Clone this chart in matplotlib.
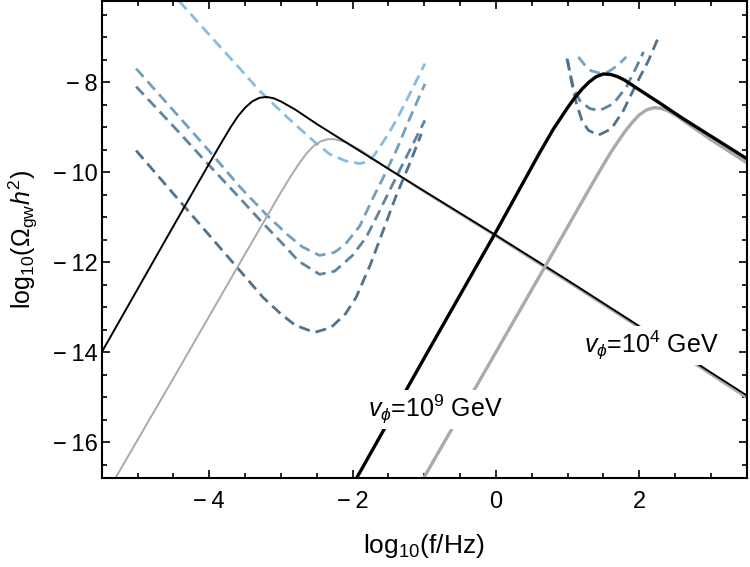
import matplotlib
matplotlib.use("Agg")
import matplotlib.pyplot as plt
from matplotlib.ticker import MultipleLocator, FuncFormatter

plt.rcParams['font.family'] = ['Liberation Sans', 'DejaVu Sans']
plt.rcParams['mathtext.fontset'] = 'custom'
plt.rcParams['mathtext.rm'] = 'Liberation Sans'
plt.rcParams['mathtext.it'] = 'Liberation Sans:italic'
plt.rcParams['mathtext.bf'] = 'Liberation Sans:bold'

# --- GW spectra (log10 f, log10 Omega h^2) ---
# v_phi = 10^4 GeV, black thin
x_b1 = [-5.5, -5.0, -4.5, -4.0, -3.85, -3.7, -3.6, -3.5, -3.4, -3.3, -3.2, -3.1, -3.0,
        -2.8, -2.5, -2.0, -1.0, 0.0, 1.0, 2.0, 3.0, 3.5]
y_b1 = [-14.0, -12.6, -11.2, -9.81, -9.4, -9.0, -8.76, -8.57, -8.43, -8.35, -8.33, -8.36, -8.43,
        -8.61, -8.93, -9.43, -10.42, -11.4, -12.4, -13.42, -14.45, -14.96]
# gray thin
x_g1 = [-5.31, -5.0, -4.5, -4.0, -3.5, -3.0, -2.85, -2.75, -2.65, -2.55, -2.45, -2.35,
        -2.25, -2.1, -1.9, -1.5, -1.0, 0.0, 1.0, 2.0, 3.0, 3.5]
y_g1 = [-16.8, -15.95, -14.58, -13.2, -11.82, -10.45, -10.06, -9.82, -9.6, -9.43, -9.32, -9.27,
        -9.27, -9.33, -9.5, -9.93, -10.44, -11.43, -12.44, -13.46, -14.5, -15.02]
# v_phi = 10^9 GeV, black thick
x_b2 = [-1.945, -1.0, 0.0, 0.6, 0.8, 1.0, 1.1, 1.2, 1.3, 1.4, 1.5, 1.6,
        1.7, 1.8, 2.0, 2.3, 2.6, 3.0, 3.5]
y_b2 = [-16.8, -14.13, -11.33, -9.6, -9.05, -8.57, -8.35, -8.16, -8.0, -7.88, -7.82, -7.83,
        -7.88, -7.96, -8.17, -8.48, -8.8, -9.2, -9.7]
# gray thick
x_g2 = [-1.01, 0.0, 0.8, 1.2, 1.45, 1.6, 1.7, 1.8, 1.9, 2.0, 2.1, 2.2,
        2.3, 2.4, 2.52, 3.0, 3.5]
y_g2 = [-16.8, -14.0, -11.78, -10.66, -9.97, -9.57, -9.33, -9.1, -8.9, -8.73, -8.62, -8.57,
        -8.58, -8.64, -8.75, -9.28, -9.79]

# --- sensitivity curves (dashed) ---
x_s1 = [-4.42, -4.0, -3.6, -3.3, -2.9, -2.5, -2.32, -2.1, -1.9, -1.8, -1.7, -1.62,
        -1.5, -1.39, -1.2, -0.99]
y_s1 = [-6.2, -6.95, -7.65, -8.19, -8.8, -9.37, -9.6, -9.75, -9.81, -9.77, -9.63, -9.44,
        -9.15, -8.85, -8.26, -7.59]
x_s2 = [-5.02, -4.5, -4.0, -3.57, -3.2, -2.9, -2.7, -2.46, -2.25, -2.1, -1.9, -1.71,
        -1.55, -1.39, -1.2, -0.99]
y_s2 = [-7.7, -8.63, -9.53, -10.33, -10.95, -11.4, -11.66, -11.85, -11.78, -11.6, -11.2, -10.56,
        -10.05, -9.52, -8.8, -8.04]
x_s3 = [-5.02, -4.5, -4.0, -3.67, -3.3, -3.0, -2.75, -2.46, -2.25, -2.0, -1.81, -1.65,
        -1.53, -1.34, -0.99]
y_s3 = [-8.1, -8.98, -9.85, -10.41, -11.05, -11.55, -11.98, -12.27, -12.2, -11.85, -11.45, -10.95,
        -10.56, -9.95, -8.85]
x_s4 = [-5.02, -4.5, -4.0, -3.5, -3.25, -3.0, -2.8, -2.53, -2.3, -2.1, -1.95, -1.75,
        -1.55, -1.4, -1.2, -1.04]
y_s4 = [-9.52, -10.48, -11.4, -12.32, -12.78, -13.15, -13.4, -13.56, -13.45, -13.15, -12.78, -12.05,
        -11.2, -10.56, -9.8, -9.15]
x_h1 = [1.15, 1.24, 1.33, 1.45, 1.57, 1.7, 1.82]
y_h1 = [-7.44, -7.62, -7.75, -7.8, -7.77, -7.63, -7.44]
x_h2 = [0.99, 1.08, 1.17, 1.31, 1.45, 1.64, 1.82, 1.96, 2.06]
y_h2 = [-7.48, -8.11, -8.41, -8.59, -8.63, -8.48, -8.11, -7.67, -7.33]
x_h3 = [1.0, 1.05, 1.12, 1.2, 1.29, 1.43, 1.61, 1.78, 1.96, 2.13, 2.27]
y_h3 = [-7.5, -7.95, -8.45, -8.85, -9.07, -9.18, -9.04, -8.63, -8.04, -7.52, -7.0]

fig = plt.figure(figsize=(7.5, 5.67), dpi=100)
ax = fig.add_axes([0.1356, 0.1564, 0.86, 0.8418])

dash = (4, 2.2)
ax.plot(x_s1, y_s1, color='#88bde0', lw=2, dashes=dash)
ax.plot(x_s2, y_s2, color='#72a1bf', lw=2, dashes=dash)
ax.plot(x_s3, y_s3, color='#5e849f', lw=2, dashes=dash)
ax.plot(x_s4, y_s4, color='#52728b', lw=2, dashes=dash)
ax.plot(x_h1, y_h1, color='#76a5c3', lw=2, dashes=dash)
ax.plot(x_h2, y_h2, color='#5e849f', lw=2, dashes=dash)
ax.plot(x_h3, y_h3, color='#52728b', lw=2, dashes=dash)

ax.plot(x_g1, y_g1, color='#aaaaaa', lw=1.4)
ax.plot(x_b1, y_b1, color='black', lw=1.4)
ax.plot(x_g2, y_g2, color='#aaaaaa', lw=2.4)
ax.plot(x_b2, y_b2, color='black', lw=2.4)

box = dict(facecolor='white', edgecolor='none', pad=2)
ax.text(-0.85, -15.27, r'$v_{\phi}$=10$^{9}$ GeV', fontsize=18, ha='center', va='center', bbox=box)
ax.text(2.17, -13.85, r'$v_{\phi}$=10$^{4}$ GeV', fontsize=18, ha='center', va='center', bbox=box)

def fmt(v, pos):
    n = int(round(v))
    return '\u2212\u2009%d' % -n if n < 0 else '%d' % n

ax.set_xlim(-5.5, 3.5)
ax.set_ylim(-16.8, -6.2)
ax.xaxis.set_major_locator(MultipleLocator(2))
ax.xaxis.set_minor_locator(MultipleLocator(0.5))
ax.yaxis.set_major_locator(MultipleLocator(2))
ax.yaxis.set_minor_locator(MultipleLocator(0.5))
ax.xaxis.set_major_formatter(FuncFormatter(fmt))
ax.yaxis.set_major_formatter(FuncFormatter(fmt))
ax.tick_params(which='both', direction='in', top=True, right=True, labelsize=17, width=1.2)
ax.tick_params(which='major', length=6)
ax.tick_params(which='minor', length=3.5)
ax.tick_params(axis='x', which='major', pad=9)
ax.tick_params(axis='y', which='major', pad=3)
for s in ax.spines.values():
    s.set_linewidth(1.5)

ax.set_xlabel(r'log$_{10}$(f/Hz)', fontsize=19)
ax.set_ylabel(r'log$_{10}$($\Omega_{\rm gw}h^2$)', fontsize=18)
ax.xaxis.set_label_coords(0.5, -0.112)
ax.yaxis.set_label_coords(-0.096, 0.5)

fig.savefig('out.png', dpi=100)
